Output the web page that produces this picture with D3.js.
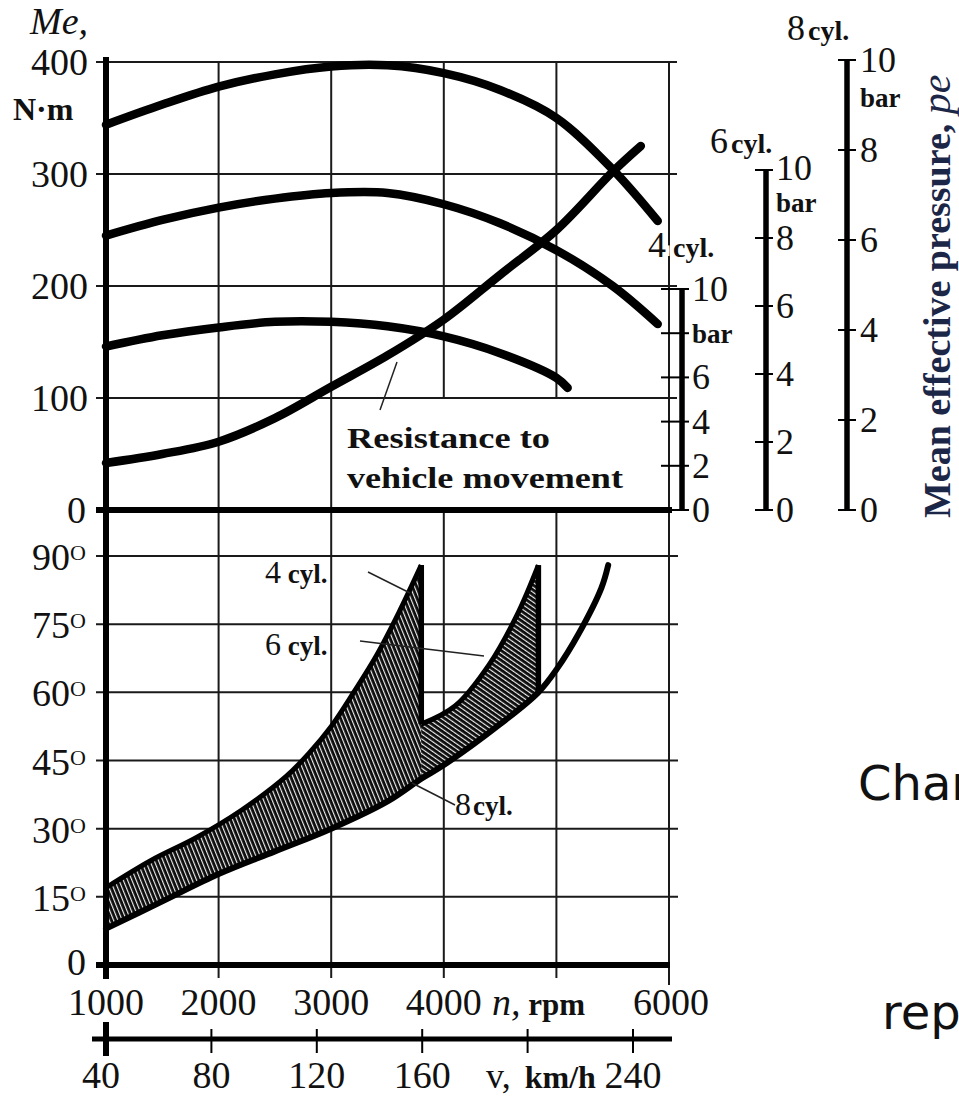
<!DOCTYPE html>
<html><head><meta charset="utf-8">
<script src="https://cdn.jsdelivr.net/npm/d3@7"></script>
<style>html,body{margin:0;padding:0;background:#fff}svg{display:block}</style>
</head><body>
<script>
// ---------- data ----------
const rpmTicks = [1000, 2000, 3000, 4000, 5000, 6000];
const rpmLabels = ["1000", "2000", "3000", "4000", "", "6000"];
const torqueTicks = [0, 100, 200, 300, 400];
const angleTicks = [0, 15, 30, 45, 60, 75, 90];
const speedTicks = [40, 80, 120, 160, 200, 240];
const speedLabels = ["40", "80", "120", "160", "", "240"];
const pressureTicks = [0, 2, 4, 6, 8, 10];

// engine torque Me (N·m) vs speed n (rpm)
const torqueRpm = [1000, 1500, 2000, 2500, 3000, 3500, 4000, 4500, 5000, 5500, 5900];
const torque8 = [344, 362, 378, 389, 396, 397, 390, 375, 350, 304, 258];
const torque6 = [245, 259, 270, 278, 283, 283, 273, 256, 232, 200, 166];
const torqueRpm4 = [1000, 1500, 2000, 2500, 3000, 3500, 4000, 4500, 5000, 5100];
const torque4 = [146, 156, 163, 168, 168, 164, 155, 140, 118, 109];
const resistRpm = [1000, 1500, 2000, 2500, 3000, 3500, 4000, 4500, 5000, 5500, 5750];
const resistance = [42, 50, 61, 82, 110, 138, 170, 210, 250, 302, 325];

// ignition advance angle (deg) vs n (rpm)
const advRpm8 = [1000, 1500, 2000, 2500, 3000, 3500, 3800, 4000, 4500, 4840, 5000, 5200, 5400, 5460];
const adv8 = [8, 14, 20, 25, 30, 36, 41, 44, 53, 60, 65, 73, 83, 88];
const advRpm4 = [1000, 1400, 1800, 2200, 2600, 2800, 3000, 3200, 3400, 3600, 3800];
const adv4 = [17, 23, 28, 34, 41.5, 46.5, 52.5, 60, 68, 77.5, 88];
const advRpm6 = [1000, 2000, 3000, 3500, 3800, 4100, 4400, 4650, 4840];
const adv6 = [13, 24, 38, 47, 53, 57, 66, 77, 88];

// ---------- setup ----------
const W = 959, H = 1099;
const SERIF = "'Liberation Serif','Times New Roman',serif";
const INK = "#111";
const svg = d3.select("body").append("svg").attr("width", W).attr("height", H)
  .style("font-family", SERIF);

const x = d3.scaleLinear().domain([1000, 6000]).range([106, 669]);
const yM = d3.scaleLinear().domain([0, 400]).range([510, 62]);
const yA = d3.scaleLinear().domain([0, 90]).range([965, 556]);
const xV = d3.scaleLinear().domain([40, 240]).range([106, 633]);
const p4 = d3.scaleLinear().domain([0, 10]).range([510, 289]);
const p6 = d3.scaleLinear().domain([0, 10]).range([510, 170]);
const p8 = d3.scaleLinear().domain([0, 10]).range([510, 60]);

const defs = svg.append("defs");
function hatch(id, angle) {
  const p = defs.append("pattern").attr("id", id).attr("patternUnits", "userSpaceOnUse")
    .attr("width", 4).attr("height", 4).attr("patternTransform", `rotate(${angle})`);
  p.append("rect").attr("width", 4).attr("height", 4).attr("fill", "#0c0c0c");
  p.append("rect").attr("x", 0).attr("width", 1.15).attr("height", 4).attr("fill", "#eeeeee");
}
hatch("h4", -22);
hatch("h6", -55);

function text(g, xx, yy, parts, anchor) {
  const t = g.append("text").attr("x", xx).attr("y", yy).attr("fill", INK)
    .attr("text-anchor", anchor || "start");
  parts.forEach(p => {
    const s = t.append("tspan").text(p.t).attr("font-size", p.size || 38);
    if (p.w) s.attr("font-weight", p.w);
    if (p.i) s.attr("font-style", "italic");
    if (p.dy) s.attr("dy", p.dy);
    if (p.dx) s.attr("dx", p.dx);
  });
  return t;
}

const grid = svg.append("g").attr("stroke", "#1a1a1a").attr("stroke-width", 2);

// top horizontal grid
grid.selectAll(".gh").data(torqueTicks.filter(d => d > 0)).join("line")
  .attr("x1", 96).attr("x2", 677).attr("y1", d => yM(d)).attr("y2", d => yM(d));
// top vertical grid
grid.selectAll(".gv").data(rpmTicks.filter(d => d > 1000)).join("line")
  .attr("x1", d => x(d)).attr("x2", d => x(d))
  .attr("y1", yM(400)).attr("y2", d => (d === 4000 || d === 5000) ? yM(100) : yM(0));
// bottom horizontal grid
grid.selectAll(".bh").data(angleTicks.filter(d => d > 0)).join("line")
  .attr("x1", 96).attr("x2", 678).attr("y1", d => yA(d)).attr("y2", d => yA(d));
// bottom vertical grid
grid.selectAll(".bv").data(rpmTicks.filter(d => d > 1000)).join("line")
  .attr("x1", d => x(d)).attr("x2", d => x(d))
  .attr("y1", yM(0)).attr("y2", d => yA(0) + (d === 6000 ? 20 : 13));

// ---------- top chart curves ----------
const torqueLine = d3.line().curve(d3.curveCatmullRom.alpha(0.5));
const curves = svg.append("g").attr("fill", "none").attr("stroke", "#000")
  .attr("stroke-width", 8.5).attr("stroke-linecap", "round");
curves.append("path").attr("d", torqueLine(torqueRpm.map((n, i) => [x(n), yM(torque8[i])])));
curves.append("path").attr("d", torqueLine(torqueRpm.map((n, i) => [x(n), yM(torque6[i])])));
curves.append("path").attr("d", torqueLine(torqueRpm4.map((n, i) => [x(n), yM(torque4[i])])));
curves.append("path").attr("d", torqueLine(resistRpm.map((n, i) => [x(n), yM(resistance[i])])));

// resistance label + leader
svg.append("line").attr("x1", 380).attr("y1", 410).attr("x2", 397).attr("y2", 362)
  .attr("stroke", "#222").attr("stroke-width", 1.5);
text(svg, 347, 448, [{ t: "Resistance to", size: 30, w: "bold" }]).attr("textLength", 203).attr("lengthAdjust", "spacingAndGlyphs");
text(svg, 347, 488, [{ t: "vehicle movement", size: 30, w: "bold" }]).attr("textLength", 276).attr("lengthAdjust", "spacingAndGlyphs");

// ---------- bottom chart band ----------
const band = d3.line().curve(d3.curveCatmullRom.alpha(0.5));
const L = advRpm8.map((n, i) => [x(n), yA(adv8[i])]);
const U4 = advRpm4.map((n, i) => [x(n), yA(adv4[i])]);
const U6 = advRpm6.map((n, i) => [x(n), yA(adv6[i])]);
function region(lower, upperPts, nMax) {
  const lo = lower.filter(p => p[0] <= x(nMax) + 0.01);
  const up = upperPts.slice().reverse();
  return band(lo) + band(up).replace(/^M/, "L") + "Z";
}
svg.append("path").attr("d", region(L, U6, 4840)).attr("fill", "url(#h6)");
svg.append("path").attr("d", region(L, U4, 3800)).attr("fill", "url(#h4)");

const outl = svg.append("g").attr("fill", "none").attr("stroke", "#000").attr("stroke-linejoin", "round");
outl.append("path").attr("d", band(U4)).attr("stroke-width", 5);
outl.append("path").attr("d", band(U6.filter(p => p[0] >= x(3800) - 0.01))).attr("stroke-width", 5);
outl.append("path").attr("d", band(L)).attr("stroke-width", 6).attr("stroke-linecap", "round");
outl.append("line").attr("x1", x(3800)).attr("x2", x(3800)).attr("y1", yA(88)).attr("y2", yA(53)).attr("stroke-width", 5.5);
outl.append("line").attr("x1", x(4840)).attr("x2", x(4840)).attr("y1", yA(88)).attr("y2", yA(60)).attr("stroke-width", 5.5);
outl.append("line").attr("x1", x(1000)).attr("x2", x(1000)).attr("y1", yA(17)).attr("y2", yA(8)).attr("stroke-width", 4);

// leaders + labels in bottom chart
const lead = svg.append("g").attr("stroke", "#222").attr("stroke-width", 1.5);
lead.append("line").attr("x1", 368).attr("y1", 572).attr("x2", 410).attr("y2", 593);
lead.append("line").attr("x1", 360).attr("y1", 641).attr("x2", 484).attr("y2", 656);
lead.append("line").attr("x1", 412).attr("y1", 783).attr("x2", 455).attr("y2", 805);
text(svg, 265, 583, [{ t: "4", size: 32 }, { t: " cyl.", size: 27, w: "bold" }]);
text(svg, 265, 655, [{ t: "6", size: 32 }, { t: " cyl.", size: 27, w: "bold" }]);
text(svg, 455, 815, [{ t: "8", size: 32 }, { t: "cyl.", size: 27, w: "bold", dx: 2 }]);

// ---------- axes ----------
const ax = svg.append("g").attr("stroke", "#000");
ax.append("line").attr("x1", 106).attr("x2", 106).attr("y1", 57).attr("y2", yA(0) + 14).attr("stroke-width", 6);
ax.append("line").attr("x1", 96).attr("x2", 672).attr("y1", yM(0)).attr("y2", yM(0)).attr("stroke-width", 6);
ax.append("line").attr("x1", 96).attr("x2", 670).attr("y1", yA(0)).attr("y2", yA(0)).attr("stroke-width", 6);
// speed axis
ax.append("line").attr("x1", 92).attr("x2", 672).attr("y1", 1039).attr("y2", 1039).attr("stroke-width", 5);
ax.selectAll(".st").data(speedTicks).join("line")
  .attr("x1", d => xV(d)).attr("x2", d => xV(d))
  .attr("y1", d => d === 40 ? 1022 : 1029).attr("y2", d => d === 40 ? 1056 : 1053)
  .attr("stroke-width", d => d === 40 ? 6 : 2);

// tick labels
svg.selectAll(".tl").data(torqueTicks).join("text")
  .attr("x", d => d === 0 ? 86 : 88).attr("y", d => yM(d) + 13)
  .attr("text-anchor", "end").attr("font-size", 38).attr("fill", INK).text(d => d);
angleTicks.forEach(a => {
  if (a === 0) text(svg, 86, yA(0) + 10, [{ t: "0" }], "end");
  else text(svg, 86, yA(a) + 14, [{ t: String(a) }, { t: "O", size: 22, dy: -10 }], "end");
});
svg.selectAll(".rl").data(rpmTicks).join("text")
  .attr("x", d => x(d) + (d === 6000 ? 2 : 0)).attr("y", 1015).attr("text-anchor", "middle")
  .attr("font-size", 38).attr("fill", INK).text((d, i) => rpmLabels[i]);
text(svg, 492, 1015, [{ t: "n,", i: true }, { t: " rpm", size: 31, w: "bold" }]);
svg.selectAll(".vl").data(speedTicks).join("text")
  .attr("x", d => xV(d) + (d === 40 ? -5 : 0)).attr("y", 1088).attr("text-anchor", "middle")
  .attr("font-size", 38).attr("fill", INK).text((d, i) => speedLabels[i]);
text(svg, 486, 1088, [{ t: "v,", size: 36 }, { t: " km/h", size: 32, w: "bold", dx: 6 }]);

// axis titles
text(svg, 30, 34, [{ t: "Me,", i: true, size: 38 }]);
text(svg, 13, 120, [{ t: "N·m", w: "bold", size: 32 }]);

// ---------- pressure axes ----------
function pAxis(xx, scale, tl, tr, labelX, labels) {
  const g = svg.append("g");
  g.append("line").attr("x1", xx).attr("x2", xx).attr("y1", scale(10)).attr("y2", scale(0))
    .attr("stroke", "#000").attr("stroke-width", 5.5);
  g.selectAll("line.t").data(pressureTicks).join("line")
    .attr("x1", xx - tl).attr("x2", xx + tr).attr("y1", d => scale(d)).attr("y2", d => scale(d))
    .attr("stroke", "#000").attr("stroke-width", 2);
  g.selectAll("text").data(labels).join("text")
    .attr("x", labelX).attr("y", d => scale(d.v) + 12 + (d.off || 0))
    .attr("font-size", d => d.t === "bar" ? 27 : 36).attr("font-weight", d => d.t === "bar" ? "bold" : null)
    .attr("fill", INK).text(d => d.t);
}
pAxis(682, p4, 21, 7, 692, [{ v: 10, t: "10" }, { v: 8, t: "bar", off: -2 }, { v: 6, t: "6" }, { v: 4, t: "4" }, { v: 2, t: "2" }, { v: 0, t: "0" }]);
pAxis(766, p6, 11, 7, 776, [{ v: 10, t: "10", off: -2 }, { v: 9.1, t: "bar", off: -1 }, { v: 8, t: "8" }, { v: 6, t: "6" }, { v: 4, t: "4" }, { v: 2, t: "2" }, { v: 0, t: "0" }]);
pAxis(847, p8, 9, 9, 860, [{ v: 10, t: "10" }, { v: 9.15, t: "bar", off: -3 }, { v: 8, t: "8" }, { v: 6, t: "6" }, { v: 4, t: "4" }, { v: 2, t: "2" }, { v: 0, t: "0" }]);

const halo = t => t.attr("stroke", "#fff").attr("stroke-width", 8).attr("paint-order", "stroke");
halo(text(svg, 648, 257, [{ t: "4", size: 36 }, { t: " cyl.", size: 28, w: "bold" }]));
text(svg, 710, 153, [{ t: "6", size: 36 }, { t: "cyl.", size: 28, w: "bold", dx: 3 }]);
text(svg, 787, 40, [{ t: "8", size: 36 }, { t: "cyl.", size: 28, w: "bold", dx: 3 }]);

// rotated title
const rt = svg.append("g").attr("transform", "translate(950,518) rotate(-90)");
text(rt, 0, 0, [{ t: "Mean effective pressure, ", w: "bold", size: 38 }, { t: "pe", i: true, size: 42 }])
  .attr("fill", "#1c2748");

// cropped slide text on the right
svg.append("text").attr("x", 858).attr("y", 800).attr("font-family", "'DejaVu Sans',sans-serif")
  .attr("font-size", 48).attr("fill", "#111").text("Char");
svg.append("text").attr("x", 882).attr("y", 1029).attr("font-family", "'DejaVu Sans',sans-serif")
  .attr("font-size", 48).attr("fill", "#111").text("rep");
</script>
</body></html>
